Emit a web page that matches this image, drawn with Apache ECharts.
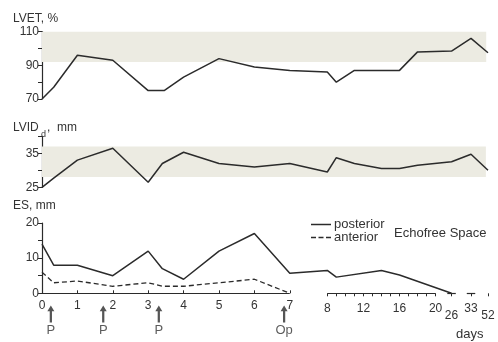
<!DOCTYPE html>
<html>
<head>
<meta charset="utf-8">
<style>
  html, body { margin: 0; padding: 0; background: #fff; }
  #chart { width: 498px; height: 342px; }
</style>
<script src="https://cdn.jsdelivr.net/npm/echarts@6/dist/echarts.min.js"></script>
</head>
<body>
<div id="chart"></div>
<script>
// days -> position on the broken x axis (0-7 linear, 8-20 compressed, late days spaced)
var midPos = 8.06, midStep = 0.255;
var lateDays = [26, 33, 52];
var latePos = [11.57, 12.12, 12.6];
function pos(d) {
  if (d <= 7) return d;
  if (d <= 20) return midPos + (d - 8) * midStep;
  return latePos[lateDays.indexOf(d)];
}

var lvetDays = [0, 0.33, 1, 2, 3, 3.45, 4, 5, 6, 7, 8, 9, 11, 16, 18, 26, 33, 52];
var lvetVals = [70, 77, 96, 93, 75, 75, 83, 94, 89, 87, 86, 80, 87, 87, 98, 98.5, 106, 97.5];
var lvetBand = [92, 110];

var lvidDays = [0, 0.33, 1, 2, 3, 3.4, 4, 5, 6, 7, 8, 9, 11, 14, 16, 18, 26, 33, 52];
var lvidVals = [25, 27.7, 33, 36.5, 26.5, 32, 35.3, 32, 31, 32, 29.5, 33.7, 32, 30.5, 30.5, 31.5, 32.5, 34.7, 30];
var lvidBand = [28, 37];

var postDays = [0, 0.33, 1, 2, 3, 3.4, 4, 5, 6, 7, 8, 9, 14, 16, 26];
var postVals = [14, 8, 8, 5, 12, 7, 4, 12, 17, 5.7, 6.5, 4.6, 6.5, 5.2, 0];

var antDays = [0, 0.33, 1, 2, 3, 3.4, 4, 5, 6, 7];
var antVals = [6, 3, 3.5, 2, 3, 2, 2, 3, 4, 0];

var arrowDays = [0.25, 1.73, 3.3, 6.84];
var arrowLabels = ['P', 'P', 'P', 'Op'];

var lvetLabels = [70, 90, 110];
var lvidLabels = [25, 35];
var esLabels = [0, 10, 20];
var earlyTicks = [0, 1, 2, 3, 4, 5, 6, 7];
var midTicks = [8, 9, 10, 11, 12, 13, 14, 15, 16, 17, 18, 19, 20];
var midLabels = [8, 12, 16, 20];

var ink = '#2b2b2b';
var txt = '#333';
var band = '#ecebe2';
var font = 'Liberation Sans, Arial, sans-serif';

function pairs(days, vals) {
  return days.map(function (d, i) { return [pos(d), vals[i]]; });
}
function labelFor(days) {
  return function (value) {
    for (var i = 0; i < days.length; i++) {
      if (Math.abs(pos(days[i]) - value) < 0.01) {
        var d = days[i];
        if (d === 26 || d === 52) return '{lo|' + d + '}';
        if (d >= 8 && d <= 33) return '{mid|' + d + '}';
        return String(d);
      }
    }
    return '';
  };
}
function yAxis(grid, min, max, labels) {
  return {
    type: 'value', gridIndex: grid, min: min, max: max, interval: grid === 0 ? 10 : 5,
    axisLine: { show: true, lineStyle: { color: ink, width: 1.2 } },
    axisTick: { show: true, length: 4, lineStyle: { color: ink } },
    axisLabel: { customValues: labels, color: txt, fontSize: 12, fontFamily: font, margin: 3 },
    splitLine: { show: false }
  };
}
function hiddenX(grid) {
  return { type: 'value', gridIndex: grid, min: 0, max: 12.6, show: false };
}
// titles carry 5px default padding, so left/top are 5 less than the text edge
function plainTitle(text, left, top, size) {
  return { text: text, left: left, top: top, textStyle: { fontSize: size, fontWeight: 'normal', color: txt, fontFamily: font } };
}
var curve = { color: ink, width: 1.5 };

var chart = echarts.init(document.getElementById('chart'), null, { renderer: 'canvas' });
var lateAndMid = midTicks.concat(lateDays);
var midAndLateLabels = midLabels.concat(lateDays);

chart.setOption({
  animation: false,
  backgroundColor: '#fff',
  textStyle: { fontFamily: font },
  title: [
    plainTitle('LVET, %', 8, 8, 12),
    plainTitle('LVID', 8, 117, 12),
    plainTitle('d', 36, 125, 9),
    plainTitle(',  mm', 42, 117, 12),
    plainTitle('ES, mm', 8, 195, 12),
    plainTitle('Echofree Space', 389, 222, 13),
    plainTitle('days', 451, 323, 13)
  ],
  legend: {
    left: 306, top: 213, orient: 'vertical', itemWidth: 20, itemHeight: 1.5, itemGap: 0,
    textStyle: { fontSize: 13, color: txt, fontFamily: font, padding: [0, 0, 0, -2] },
    data: [
      { name: 'posterior', icon: 'path://M0,0H20V1.5H0Z' },
      { name: 'anterior', icon: 'path://M0,0H5V1.5H0Z M7.5,0H12.5V1.5H7.5Z M15,0H20V1.5H15Z' }
    ]
  },
  grid: [
    { left: 42, right: 10, top: 31.7, height: 67.3 },
    { left: 42, right: 10, top: 136.3, height: 51 },
    { left: 42, right: 10, top: 223, height: 70.3 }
  ],
  xAxis: [
    hiddenX(0),
    hiddenX(1),
    {
      type: 'value', gridIndex: 2, min: 0, max: 12.6, position: 'bottom',
      axisLine: { show: false },
      axisTick: { show: true, inside: true, length: 3, customValues: earlyTicks.map(pos), lineStyle: { color: ink } },
      axisLabel: { customValues: earlyTicks.map(pos), formatter: labelFor(earlyTicks), color: txt, fontSize: 12, fontFamily: font, margin: 6 },
      splitLine: { show: false }
    },
    {
      type: 'value', gridIndex: 2, min: 0, max: 12.6, position: 'bottom', offset: 0,
      axisLine: { show: false },
      axisTick: { show: true, length: 3, customValues: lateAndMid.map(pos), lineStyle: { color: ink } },
      axisLabel: {
        customValues: midAndLateLabels.map(pos), formatter: labelFor(midAndLateLabels),
        color: txt, fontSize: 12, fontFamily: font, margin: 6,
        rich: {
          mid: { fontSize: 12, color: txt, fontFamily: font, padding: [3, 0, 0, 0] },
          lo: { fontSize: 12, color: txt, fontFamily: font, padding: [10, 0, 0, 0] }
        }
      },
      splitLine: { show: false }
    }
  ],
  yAxis: [
    yAxis(0, 70, 110, lvetLabels),
    yAxis(1, 25, 40, lvidLabels),
    yAxis(2, 0, 20, esLabels)
  ],
  series: [
    {
      name: 'LVET', type: 'line', xAxisIndex: 0, yAxisIndex: 0, symbol: 'none',
      lineStyle: curve, data: pairs(lvetDays, lvetVals), z: 3,
      markArea: { silent: true, itemStyle: { color: band }, data: [[{ coord: [0, lvetBand[0]] }, { coord: [12.55, lvetBand[1]] }]] }
    },
    {
      name: 'LVID', type: 'line', xAxisIndex: 1, yAxisIndex: 1, symbol: 'none',
      lineStyle: curve, data: pairs(lvidDays, lvidVals), z: 3,
      markArea: { silent: true, itemStyle: { color: band }, data: [[{ coord: [0, lvidBand[0]] }, { coord: [12.54, lvidBand[1]] }]] }
    },
    {
      name: 'posterior', type: 'line', xAxisIndex: 2, yAxisIndex: 2, symbol: 'none',
      lineStyle: curve, itemStyle: { color: ink }, data: pairs(postDays, postVals), z: 3,
      markLine: {
        silent: true, symbol: ['none', 'none'], label: { show: false },
        lineStyle: { color: ink, width: 1.2, type: 'solid' },
        data: [
          [{ coord: [pos(0), 0] }, { coord: [pos(7), 0] }],
          [{ coord: [pos(8), 0] }, { coord: [pos(20), 0] }]
        ].concat(lateDays.map(function (d) {
          return [{ coord: [pos(d) - 0.12, 0] }, { coord: [pos(d) + 0.12, 0] }];
        }))
      }
    },
    {
      name: 'anterior', type: 'line', xAxisIndex: 2, yAxisIndex: 2, symbol: 'none',
      lineStyle: { color: ink, width: 1.3, type: [5, 3] }, itemStyle: { color: ink },
      data: pairs(antDays, antVals), z: 3
    },
    {
      name: 'events', type: 'scatter', xAxisIndex: 2, yAxisIndex: 2, clip: false, silent: true,
      symbol: 'path://M5,0 L10,10 L6.6,10 L6.6,30 L3.4,30 L3.4,10 L0,10 Z', symbolSize: [7, 17],
      itemStyle: { color: ink },
      label: {
        show: true, position: 'bottom', distance: 1, color: txt, fontSize: 13, fontFamily: font,
        formatter: function (p) { return arrowLabels[p.dataIndex]; }
      },
      data: arrowDays.map(function (d) { return [pos(d), -5.9]; })
    }
  ]
});

window.addEventListener('resize', function () {
  chart.resize();
});
</script>
</body>
</html>
